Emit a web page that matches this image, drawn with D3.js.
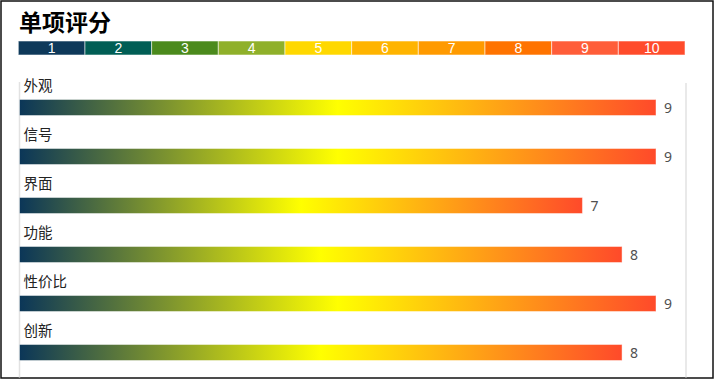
<!DOCTYPE html>
<html><head><meta charset="utf-8">
<script src="https://cdn.jsdelivr.net/npm/d3@7/dist/d3.min.js"></script>
<style>html,body{margin:0;padding:0;background:#fff;}svg{display:block;}</style>
</head><body>
<svg id="chart" width="720" height="380"></svg>
<script>
const title = "单项评分";
const legendLabels = ["1","2","3","4","5","6","7","8","9","10"];
const legendColors = ["#0e395a","#015e55","#4b8a1c","#8fb02a","#ffd800","#ffb400","#ff9a00","#ff7300","#ff5d39","#ff4b2b"];
const categories = ["外观","信号","界面","功能","性价比","创新"];
const scores = [9, 9, 7, 8, 9, 8];            // printed score labels
const barValues = [9.0, 9.0, 7.96, 8.52, 9.0, 8.52]; // bar lengths
const gradientStops = [
  {offset: 0, color: "#0b3658"},
  {offset: 0.5, color: "#ffff00"},
  {offset: 1, color: "#ff4a2a"}
];

const svg = d3.select("#chart");
const cjk = "'Noto Sans CJK SC','Noto Sans',sans-serif";

// outer border
svg.append("rect").attr("x",1).attr("y",1).attr("width",712).attr("height",377)
  .attr("fill","#fff").attr("stroke","#111").attr("stroke-width",1.5);

// title
svg.append("text").attr("x",19).attr("y",31).text(title)
  .attr("font-family",cjk).attr("font-weight","bold").attr("font-size",23).attr("fill","#000");

// legend
const lx = d3.scaleBand().domain(legendLabels).range([18.3, 685]);
const lg = svg.append("g");
lg.selectAll("rect").data(legendLabels).join("rect")
  .attr("x", d => lx(d)).attr("y", 41).attr("width", lx.bandwidth()).attr("height", 14)
  .attr("fill", (d,i) => legendColors[i])
  .attr("stroke","rgba(255,255,255,0.55)").attr("stroke-width",1);
lg.selectAll("text").data(legendLabels).join("text")
  .attr("x", d => lx(d) + lx.bandwidth()/2).attr("y", 53)
  .attr("text-anchor","middle").attr("fill","#fff")
  .attr("font-family","'Liberation Sans Narrow','Arial Narrow','Liberation Sans',sans-serif")
  .attr("font-size",14).text(d => d);

// gradient
const defs = svg.append("defs");
const grad = defs.append("linearGradient").attr("id","barGrad")
  .attr("x1","0%").attr("x2","100%").attr("y1","0%").attr("y2","0%");
grad.selectAll("stop").data(gradientStops).join("stop")
  .attr("offset", d => d.offset).attr("stop-color", d => d.color);

// plot frame lines
svg.append("line").attr("x1",19.5).attr("x2",19.5).attr("y1",82).attr("y2",377.5)
  .attr("stroke","#e2e2e2").attr("stroke-width",1.5);
svg.append("line").attr("x1",686).attr("x2",686).attr("y1",83).attr("y2",377.5)
  .attr("stroke","#e2e2e2").attr("stroke-width",1.5);

// scales
const x = d3.scaleLinear().domain([0, 9]).range([19.5, 656]);
const y = d3.scaleBand().domain(categories).range([75, 75 + 49*categories.length]);
const barH = 16;

const rows = svg.append("g").selectAll("g").data(categories).join("g")
  .attr("transform", d => `translate(0,${y(d)})`);

rows.append("text").attr("x", 23.5).attr("y", 16)
  .attr("font-family", cjk).attr("font-size", 14.5).attr("fill","#222")
  .text(d => d);

rows.append("rect").attr("x", x(0)).attr("y", 24.5)
  .attr("width", (d,i) => x(barValues[i]) - x(0)).attr("height", barH)
  .attr("fill","url(#barGrad)")
  .attr("stroke","rgba(255,255,255,0.45)").attr("stroke-width",1);

rows.append("text").attr("x", (d,i) => x(barValues[i]) + 8).attr("y", 24.5 + barH/2 + 5)
  .attr("font-family","'Noto Sans','DejaVu Sans',sans-serif").attr("font-size",14).attr("fill","#505050")
  .text((d,i) => scores[i]);
</script>
</body></html>
